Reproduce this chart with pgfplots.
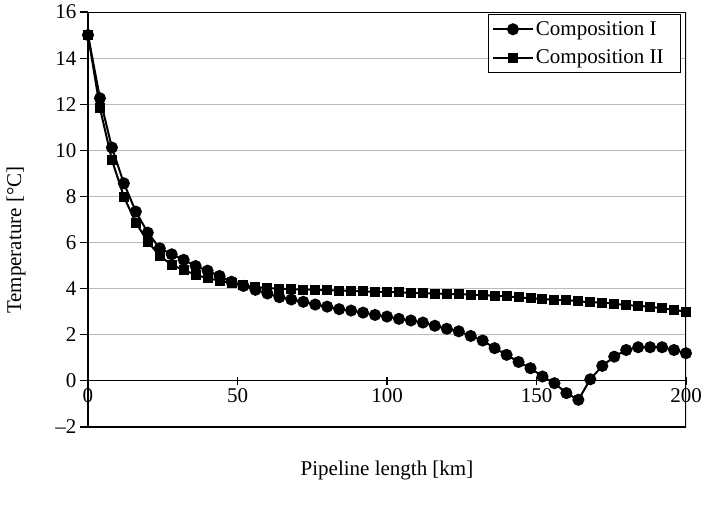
\documentclass[border=0pt]{standalone}
\usepackage{fontspec}
\setmainfont{Liberation Serif}
\usepackage{pgfplots}
\usepackage{pgfplotstable}
\pgfplotsset{compat=1.18}
\newcommand{\chartfont}{\fontsize{21}{25}\selectfont}

% temperature along the pipeline, every 4 km
\pgfplotstableread{
km   compI  compII
0    15.00  15.00
4    12.26  11.83
8    10.12   9.58
12    8.57   7.99
16    7.34   6.86
20    6.43   6.04
24    5.75   5.42
28    5.49   5.03
32    5.25   4.81
36    4.98   4.60
40    4.78   4.45
44    4.55   4.35
48    4.30   4.25
52    4.12   4.15
56    3.95   4.07
60    3.79   4.03
64    3.63   4.00
68    3.53   3.98
72    3.43   3.96
76    3.31   3.95
80    3.22   3.93
84    3.11   3.92
88    3.05   3.90
92    2.96   3.88
96    2.86   3.87
100   2.79   3.86
104   2.69   3.84
108   2.62   3.82
112   2.53   3.80
116   2.39   3.79
120   2.26   3.77
124   2.15   3.76
128   1.95   3.74
132   1.75   3.72
136   1.42   3.69
140   1.13   3.67
144   0.82   3.62
148   0.55   3.59
152   0.19   3.55
156  -0.10   3.52
160  -0.53   3.51
164  -0.82   3.45
168   0.07   3.41
172   0.65   3.40
176   1.05   3.35
180   1.34   3.28
184   1.46   3.26
188   1.46   3.21
192   1.46   3.15
196   1.34   3.08
200   1.20   3.00
}\tempdata

\begin{document}
\begin{tikzpicture}
\useasboundingbox (-88pt,-77pt) rectangle (616pt,427pt);
\begin{axis}[
  at={(0,0)}, anchor=south west,
  scale only axis,
  width=598pt, height=415pt,
  xmin=0, xmax=200, ymin=-2, ymax=16,
  axis x line*=middle, axis y line*=left,
  axis line style={-, line width=1.2pt, black},
  xtick={50,100,150,200},
  extra x ticks={0},
  extra x tick style={xtick align=center, major tick length=8pt},
  ytick={-2,0,2,4,6,8,10,12,14,16},
  yticklabels={\textendash2,0,2,4,6,8,10,12,14,16},
  xtick align=center, ytick align=outside,
  major tick length=8pt,
  tick style={line width=1.2pt, black},
  tick label style={font=\chartfont},
  /pgf/number format/assume math mode=true,
  ymajorgrids,
  grid style={line width=1pt, gray!55},
  xlabel={Pipeline length [km]},
  ylabel={Temperature [\textdegree C]},
  xlabel style={font=\chartfont, at={(axis description cs:0.5,0)}, anchor=center, yshift=-43pt},
  ylabel style={font=\chartfont, at={([xshift=-72pt]axis description cs:0,0.45)}, anchor=center},
  legend style={at={(axis description cs:0.992,0.995)}, anchor=north east,
    draw=black, line width=1pt, font=\chartfont, inner xsep=3pt, inner ysep=5pt, row sep=9pt},
  legend cell align=left,
  legend image code/.code={
    \draw[mark repeat=2, mark phase=2, #1] plot coordinates {(0pt,0pt) (20pt,0pt) (40pt,0pt)};
  },
]
\addplot[black, line width=2pt, mark=*, mark size=5pt] table[x=km, y=compI] {\tempdata};
\addlegendentry{Composition I}
\addplot[black, line width=2pt, mark=square*, mark size=4pt] table[x=km, y=compII] {\tempdata};
\addlegendentry{Composition II\hspace*{12pt}}
\draw[line width=1.2pt, black] (rel axis cs:0,0) rectangle (rel axis cs:1,1);
\end{axis}
\end{tikzpicture}
\end{document}
